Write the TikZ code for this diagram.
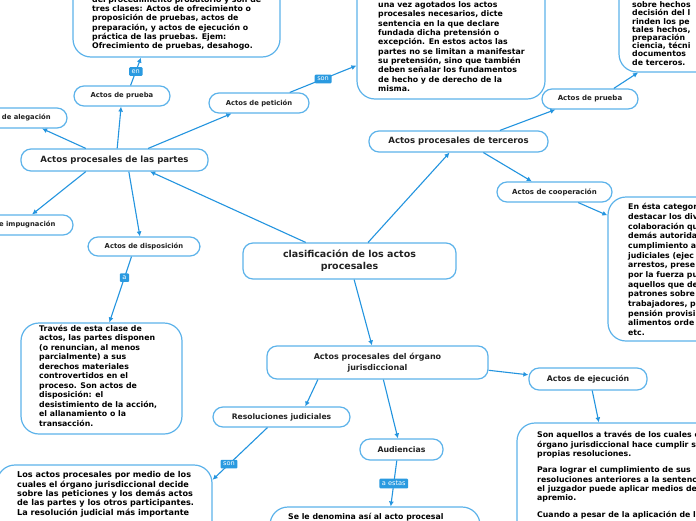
\documentclass[tikz,border=0pt]{standalone}
\usepackage{fontspec}
\setmainfont{DejaVu Sans}
\usetikzlibrary{arrows.meta}
\definecolor{bord}{HTML}{5DB3EA}
\definecolor{cblue}{HTML}{2394DF}
\definecolor{lblc}{HTML}{2A9AE0}
\definecolor{txt}{HTML}{222222}
\begin{document}
\begin{tikzpicture}[x=1pt,y=-1pt,
  pill/.style={draw=bord, line width=1.2pt, rounded corners=10pt, fill=white, text=txt, inner sep=0pt, align=center},
  small/.style={pill, font=\bfseries\fontsize{6.8}{8}\selectfont},
  bigbox/.style={draw=bord, line width=1.2pt, rounded corners=18pt, fill=white, inner sep=0pt},
  body/.style={anchor=north west, align=left, inner sep=0pt, text=black, font=\bfseries\fontsize{7.8}{9.3}\selectfont},
  link/.style={draw=cblue, line width=1.1pt, -{Latex[length=5pt,width=5pt]}},
  lbl/.style={fill=lblc, text=white, font=\fontsize{6.6}{8}\selectfont, inner xsep=2.6pt, inner ysep=2.4pt, rounded corners=1pt}]
\useasboundingbox (0,0) rectangle (696,520);
\fill[white] (0,0) rectangle (696,520);
\clip (0,0) rectangle (696,520);

% main nodes
\node[pill, minimum width=213pt, minimum height=36pt, font=\bfseries\fontsize{9.5}{12}\selectfont] (C) at (349.5,261) {clasificación de los actos\\procesales};
\node[pill, minimum width=221pt, minimum height=33pt, font=\bfseries\fontsize{8}{10.7}\selectfont] (J) at (377.5,362.5) {Actos procesales del órgano\\jurisdiccional};
\node[pill, minimum width=187pt, minimum height=22pt, font=\bfseries\fontsize{8.6}{10}\selectfont] (P) at (114.5,160) {Actos procesales de las partes};
\node[pill, minimum width=179pt, minimum height=21pt, font=\bfseries\fontsize{8.6}{10}\selectfont] (T) at (458.5,141.5) {Actos procesales de terceros};

% small nodes
\node[small, minimum width=96pt, minimum height=20pt] (PP) at (122,96) {Actos de prueba};
\node[small, minimum width=105pt, minimum height=20pt] (AL) at (14.5,118) {Actos de alegación};
\node[small, minimum width=120pt, minimum height=20pt] (IM) at (13,225) {Actos de impugnación};
\node[small, minimum width=112pt, minimum height=19pt] (DI) at (144,246.5) {Actos de disposición};
\node[small, minimum width=100pt, minimum height=20pt] (PE) at (259,103) {Actos de petición};
\node[small, minimum width=96pt, minimum height=20pt, font=\bfseries\fontsize{7}{8}\selectfont] (PT) at (590,99) {Actos de prueba};
\node[small, minimum width=115pt, minimum height=20pt, font=\bfseries\fontsize{7}{8}\selectfont] (CO) at (554.5,192) {Actos de cooperación};
\node[small, minimum width=137pt, minimum height=20pt, font=\bfseries\fontsize{7.6}{9}\selectfont] (RE) at (281.5,417) {Resoluciones judiciales};
\node[small, minimum width=83pt, minimum height=21pt, font=\bfseries\fontsize{7.8}{9}\selectfont] (AU) at (401.5,449.5) {Audiencias};
\node[small, minimum width=118pt, minimum height=22pt, font=\bfseries\fontsize{7.8}{9}\selectfont] (EJ) at (588,379) {Actos de ejecución};

% big text boxes
\node[bigbox, minimum width=207pt, minimum height=117pt] (BPr) at (176.5,-1.5) {};
\node[body] (tPr) at (92,-3.8) {del procedimiento probatorio y son de\\tres clases: Actos de ofrecimiento o\\proposición de pruebas, actos de\\preparación, y actos de ejecución o\\práctica de las pruebas. Ejem:\\Ofrecimiento de pruebas, desahogo.};

\node[bigbox, minimum width=188pt, minimum height=159pt] (BPe) at (451,19.5) {};
\node[body] (tPe) at (378,1.5) {una vez agotados los actos\\procesales necesarios, dicte\\sentencia en la que declare\\fundada dicha pretensión o\\excepción. En estos actos las\\partes no se limitan a manifestar\\su pretensión, sino que también\\deben señalar los fundamentos\\de hecho y de derecho de la\\misma.};

\node[bigbox, minimum width=181pt, minimum height=152pt] (BPT) at (709.5,-4) {};
\node[body, font=\bfseries\fontsize{7.8}{8.2}\selectfont] (tPT) at (632,1.5) {sobre hechos\\decisión del l\\rinden los pe\\tales hechos,\\preparación\\ciencia, técni\\documentos\\de terceros.};

\node[bigbox, minimum width=161pt, minimum height=111pt] (BD) at (101.5,378.5) {};
\node[body, font=\bfseries\fontsize{7.8}{9.5}\selectfont] (tD) at (39,324.8) {Través de esta clase de\\actos, las partes disponen\\(o renuncian, al menos\\parcialmente) a sus\\derechos materiales\\controvertidos en el\\proceso. Son actos de\\disposición: el\\desistimiento de la acción,\\el allanamiento o la\\transacción.};

\node[bigbox, minimum width=152pt, minimum height=144pt] (BCo) at (684,269) {};
\node[body, font=\bfseries\fontsize{7.8}{9.65}\selectfont] (tCo) at (628,203.5) {En ésta categor\\destacar los div\\colaboración qu\\demás autorida\\cumplimiento a\\judiciales (ejec\\arrestos, prese\\por la fuerza pu\\aquellos que de\\patrones sobre\\trabajadores, p\\pensión provisi\\alimentos orde\\etc.};

\node[bigbox, minimum width=215pt, minimum height=135pt] (BS) at (104.5,532.5) {};
\node[body, font=\bfseries\fontsize{8.1}{9.3}\selectfont] (tS) at (17,471.5) {Los actos procesales por medio de los\\cuales el órgano jurisdiccional decide\\sobre las peticiones y los demás actos\\de las partes y los otros participantes.\\La resolución judicial más importante};

\node[bigbox, minimum width=210pt, minimum height=73pt] (BAu) at (375,543.5) {};
\node[body] (tAu) at (288,513.5) {Se le denomina así al acto procesal};

\node[bigbox, minimum width=243pt, minimum height=177pt] (BEj) at (638.5,511.5) {};
\node[body] (tEj) at (537,431.5) {Son aquellos a través de los cuales el\\órgano jurisdiccional hace cumplir sus\\propias resoluciones.\\[7pt]Para lograr el cumplimiento de sus\\resoluciones anteriores a la sentencia,\\el juzgador puede aplicar medios de\\apremio.\\[7pt]Cuando a pesar de la aplicación de los};

% connectors
\draw[link] (C.157) -- (P.-18.7);
\draw[link] (C.45.8) -- (T.-129.6);
\draw[link] (C.-76) -- (J.108.4);
\draw[link] (P.77.2) -- (PP.-95.7);
\draw[link] (P.158.2) -- (AL.-21.4);
\draw[link] (P.19.8) -- (PE.-159);
\draw[link] (P.-158.2) -- (IM.29);
\draw[link] (P.-39.2) -- (DI.112.8);
\draw[link] (PP.51.3) -- node[lbl] (l1) {en} (BPr.-121.25);
\draw[link] (PE.19.7) -- node[lbl] (l2) {son} (BPe.-154.2);
\draw[link] (DI.-141.6) -- node[lbl, pos=0.32] (l3) {a} (BD.82.3);
\draw[link] (J.-164.5) -- (RE.24.9);
\draw[link] (J.-71.6) -- (AU.108.4);
\draw[link] (J.-4.9) -- (EJ.176.1);
\draw[link] (RE.-143.5) -- node[lbl, pos=0.7] (l4) {son} (BS.26.9);
\draw[link] (AU.-113.2) -- node[lbl, pos=0.5] (l5) {a estas} (BAu.67.7);
\draw[link] (EJ.-70) -- (BEj.114.6);
\draw[link] (T.15.3) -- (PT.-163.1);
\draw[link] (T.-24.1) -- (CO.155.1);
\draw[link] (CO.-24) -- (BCo.145.6);
\draw[link] (PT.24.4) -- (BPT.-133.3);
\end{tikzpicture}
\end{document}
